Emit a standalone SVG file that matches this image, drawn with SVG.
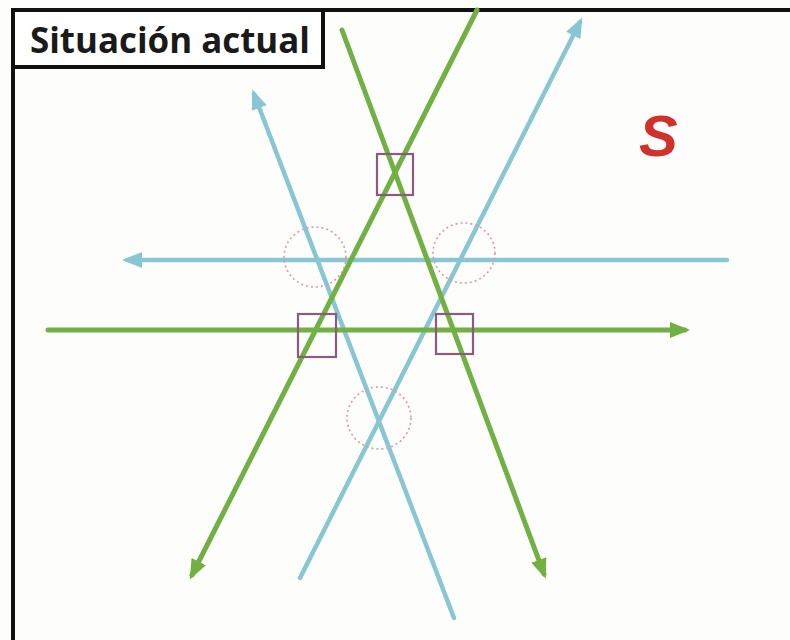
<svg xmlns="http://www.w3.org/2000/svg" width="790" height="640" viewBox="0 0 790 640">
<style>
.g{stroke:#71b042;stroke-width:5;fill:none;stroke-linecap:round}
.b{stroke:#88c6d3;stroke-width:4.5;fill:none;stroke-linecap:round}
.sq{fill:none;stroke:#8e5a7c;stroke-width:2.2}
.ci{fill:none;stroke:#e394a6;stroke-width:1.6;stroke-dasharray:2 3}
</style>
<defs>
<marker id="ag" markerUnits="userSpaceOnUse" markerWidth="20" markerHeight="16" refX="15" refY="8" orient="auto"><path d="M0,0 L20,8 L0,16 z" fill="#71b042"/></marker>
<marker id="ab" markerUnits="userSpaceOnUse" markerWidth="20" markerHeight="16" refX="15" refY="8" orient="auto"><path d="M0,0 L20,8 L0,16 z" fill="#88c6d3"/></marker>
</defs>
<rect width="790" height="640" fill="#fdfdfc"/>
<g id="frame"><rect x="13" y="10" width="790" height="640" fill="none" stroke="#111" stroke-width="4"/></g>
<g id="title">
<rect x="13" y="10" width="310" height="57" fill="#fff" stroke="#111" stroke-width="4"/>
<text x="30" y="53" font-family="Open Sans, Liberation Sans, sans-serif" font-weight="bold" font-size="35" fill="#1a1a1a" textLength="280" lengthAdjust="spacingAndGlyphs">Situación actual</text>
</g>
<g id="label-s"><text x="639" y="156" font-family="Liberation Sans, Arial, sans-serif" font-weight="bold" font-style="italic" font-size="58" fill="#d2302b">S</text></g>
<g id="connectors">
<line class="b" x1="727" y1="260" x2="127" y2="260" marker-end="url(#ab)"/>
<line class="b" x1="454" y1="618" x2="254" y2="94" marker-end="url(#ab)"/>
<line class="b" x1="300" y1="578" x2="580" y2="22" marker-end="url(#ab)"/>
<line class="g" x1="48" y1="330" x2="685" y2="330" marker-end="url(#ag)"/>
<line class="g" x1="477" y1="10" x2="192" y2="575" marker-end="url(#ag)"/>
<line class="g" x1="342" y1="30" x2="544" y2="574" marker-end="url(#ag)"/>
</g>
<g id="squares">
<rect class="sq" x="377" y="154" width="36" height="41"/>
<rect class="sq" x="298" y="314" width="38" height="43"/>
<rect class="sq" x="436" y="314" width="37" height="40"/>
</g>
<g id="circles">
<ellipse class="ci" cx="315" cy="257" rx="31" ry="30"/>
<ellipse class="ci" cx="464" cy="253" rx="31" ry="30"/>
<ellipse class="ci" cx="379" cy="418" rx="32" ry="31"/>
</g>
</svg>
